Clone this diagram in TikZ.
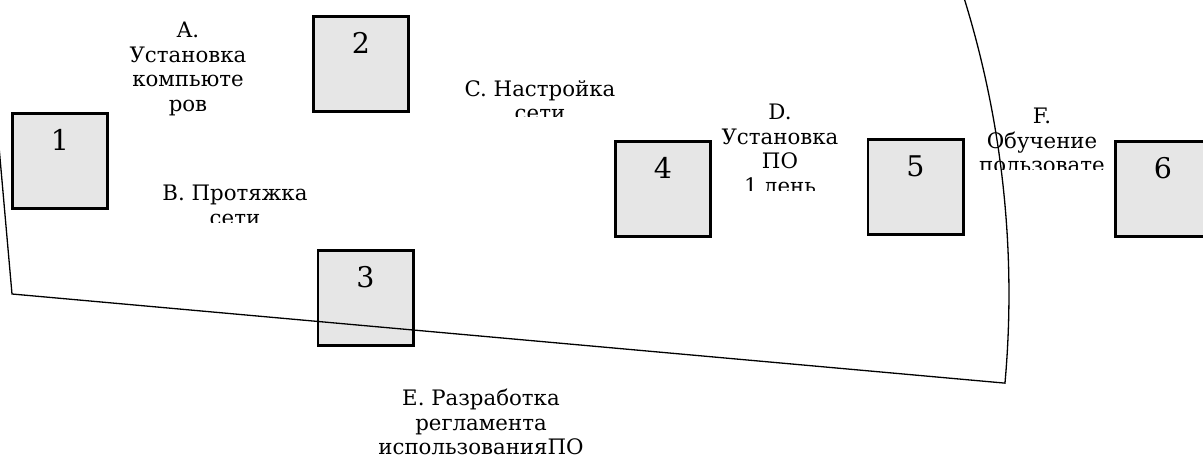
\documentclass[tikz,border=0pt]{standalone}
\usepackage{fontspec}
\setmainfont{DejaVu Serif}
\definecolor{boxgray}{HTML}{E6E6E6}
\begin{document}
\begin{tikzpicture}[x=1pt,y=-1pt,
  box/.style={draw=black, line width=2.6pt, fill=boxgray, minimum width=95.4pt, minimum height=95.4pt, inner sep=0pt},
  num/.style={anchor=base, inner sep=0pt, font=\fontsize{28.5pt}{30pt}\selectfont},
  lbl/.style={anchor=base, inner sep=0pt, align=center, font=\fontsize{21.3pt}{24.5pt}\selectfont},
  outline/.style={draw=black, line width=1.3pt, line join=miter}]
\useasboundingbox (0,0) rectangle (1203,462);
\begin{scope}
\clip (0,0) rectangle (1203,462);
% boxes
\node[box] (b1) at (60,161) {};
\node[box] (b2) at (361,64) {};
\node[box] (b3) at (365.5,298) {};
\node[box] (b4) at (663,189) {};
\node[box] (b5) at (915.5,187) {};
\node[box] (b6) at (1163,189) {};
\node[num] (n1) at ([yshift=-38.7pt]b1.north) {1};
\node[num] (n2) at ([yshift=-38.7pt]b2.north) {2};
\node[num] (n3) at ([yshift=-38.7pt]b3.north) {3};
\node[num] (n4) at ([yshift=-38.7pt]b4.north) {4};
\node[num] (n5) at ([yshift=-38.7pt]b5.north) {5};
\node[num] (n6) at ([yshift=-38.7pt]b6.north) {6};
% labels (base anchor = baseline of last line)
\node[lbl] (tA) at (188,111.5) {A.\\Установка\\компьюте\\ров};
\begin{scope}
\clip (100,150) rectangle (380,223);
\node[lbl] (tB) at (235,225.5) {B. Протяжка\\сети};
\end{scope}
\begin{scope}
\clip (420,60) rectangle (660,117);
\node[lbl] (tC) at (540,121) {C. Настройка\\сети};
\end{scope}
\begin{scope}
\clip (700,90) rectangle (860,191);
\node[lbl] (tD) at (780,193.5) {D.\\Установка\\ПО\\1 день};
\end{scope}
\node[lbl] (tE) at (481,454.5) {E. Разработка\\регламента\\использованияПО};
\begin{scope}
\clip (960,90) rectangle (1112,169.5);
\node[lbl] (tF) at (1042,173) {F.\\Обучение\\пользовате};
\end{scope}
% outline sector
\draw[outline] (-15.7,-20) -- (12,294) -- ++(5.13:997) arc[start angle=5.13, end angle=-20, radius=997];
\end{scope}
\end{tikzpicture}
\end{document}
